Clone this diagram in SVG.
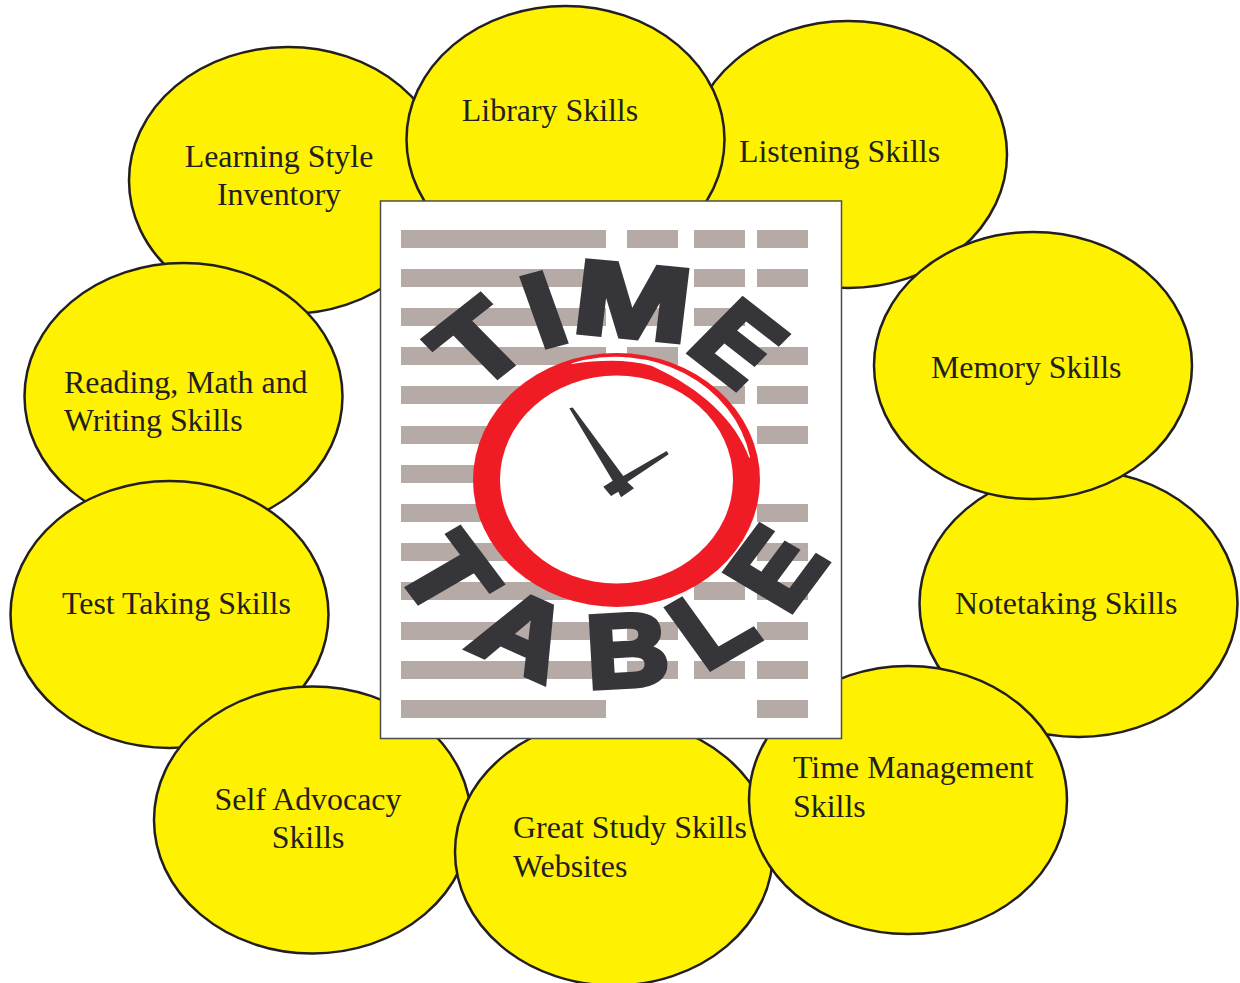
<svg xmlns="http://www.w3.org/2000/svg" width="1240" height="983" viewBox="0 0 1240 983">
<style>
.b{fill:#fff200;stroke:#231f20;stroke-width:2.5}
.t{font-family:"Liberation Serif","Times New Roman",serif;font-size:31.900px;fill:#231f20}
.m{text-anchor:middle}
.r{fill:#b5aaa5}
.l{font-family:"Liberation Sans",Arial,sans-serif;font-weight:700;font-size:100px;fill:#363539;stroke:#363539;stroke-width:5.500px;stroke-linejoin:miter}
</style>
<rect width="1240" height="983" fill="#fff"/>
<g id="listening"><ellipse class="b" cx="848" cy="154.500" rx="159" ry="133.500"/><text class="t" x="739" y="162">Listening Skills</text></g>
<g id="learning"><ellipse class="b" cx="288" cy="180.500" rx="159" ry="133.500"/><text class="t m" x="279" y="167">Learning Style</text><text class="t m" x="279" y="205">Inventory</text></g>
<g id="library"><ellipse class="b" cx="565.500" cy="139.500" rx="159" ry="133.500"/><text class="t m" x="550" y="121">Library Skills</text></g>
<g id="notetaking"><ellipse class="b" cx="1078.500" cy="603.500" rx="159" ry="133.500"/><text class="t" x="955" y="614">Notetaking Skills</text></g>
<g id="memory"><ellipse class="b" cx="1033" cy="365.500" rx="159" ry="133.500"/><text class="t" x="931" y="378">Memory Skills</text></g>
<g id="reading"><ellipse class="b" cx="183.500" cy="396.500" rx="159" ry="133.500"/><text class="t" x="64" y="393">Reading, Math and</text><text class="t" x="64" y="431">Writing Skills</text></g>
<g id="test"><ellipse class="b" cx="169.500" cy="614.500" rx="159" ry="133.500"/><text class="t" x="62" y="614">Test Taking Skills</text></g>
<g id="self"><ellipse class="b" cx="312.500" cy="820" rx="158.500" ry="133.500"/><text class="t m" x="308" y="810">Self Advocacy</text><text class="t m" x="308" y="848">Skills</text></g>
<g id="great"><ellipse class="b" cx="614" cy="852" rx="159" ry="133.500"/><text class="t" x="513" y="838">Great Study Skills</text><text class="t" x="513" y="877">Websites</text></g>
<g id="time"><ellipse class="b" cx="908" cy="800" rx="159" ry="134"/><text class="t" x="793" y="778">Time Management</text><text class="t" x="793" y="817">Skills</text></g>
<g id="timetable">
<rect x="380.500" y="201" width="461" height="537.500" fill="#fff" stroke="#4d4d4f" stroke-width="1.500"/>
<g id="rows">
<rect class="r" x="401" y="230" width="205" height="18"/><rect class="r" x="627" y="230" width="51" height="18"/><rect class="r" x="694" y="230" width="51" height="18"/><rect class="r" x="757" y="230" width="51" height="18"/>
<rect class="r" x="401" y="269" width="205" height="18"/><rect class="r" x="694" y="269" width="51" height="18"/><rect class="r" x="757" y="269" width="51" height="18"/>
<rect class="r" x="401" y="308" width="205" height="18"/><rect class="r" x="627" y="308" width="51" height="18"/><rect class="r" x="694" y="308" width="51" height="18"/>
<rect class="r" x="401" y="347" width="205" height="18"/><rect class="r" x="627" y="347" width="51" height="18"/><rect class="r" x="757" y="347" width="51" height="18"/>
<rect class="r" x="401" y="386" width="205" height="18"/><rect class="r" x="694" y="386" width="51" height="18"/><rect class="r" x="757" y="386" width="51" height="18"/>
<rect class="r" x="401" y="426" width="205" height="18"/><rect class="r" x="757" y="426" width="51" height="18"/>
<rect class="r" x="401" y="465" width="205" height="18"/>
<rect class="r" x="401" y="504" width="205" height="18"/><rect class="r" x="757" y="504" width="51" height="18"/>
<rect class="r" x="401" y="543" width="205" height="18"/><rect class="r" x="757" y="543" width="51" height="18"/>
<rect class="r" x="401" y="582" width="205" height="18"/><rect class="r" x="694" y="582" width="51" height="18"/><rect class="r" x="757" y="582" width="51" height="18"/>
<rect class="r" x="401" y="622" width="205" height="18"/><rect class="r" x="627" y="622" width="51" height="18"/><rect class="r" x="757" y="622" width="51" height="18"/>
<rect class="r" x="401" y="661" width="205" height="18"/><rect class="r" x="627" y="661" width="51" height="18"/><rect class="r" x="694" y="661" width="51" height="18"/><rect class="r" x="757" y="661" width="51" height="18"/>
<rect class="r" x="401" y="700" width="205" height="18"/><rect class="r" x="757" y="700" width="51" height="18"/>
</g>
<ellipse cx="616.500" cy="480" rx="143.500" ry="127" fill="#ef1c25"/>
<ellipse cx="616.500" cy="479.500" rx="116.500" ry="104" fill="#fff"/>
<path fill="#fff" d="M571.700 363.300A136.500 122 0 0 1 750 456.700L749.300 458.300C736 421 702 389 652 366C627 359 600 360 571.700 364Z"/>
<path fill="#363539" d="M569.300 408.300L572.700 407.500L623.300 476L666.700 451L668.700 454.300L627.300 482L634 488.300L621 497.300L618.300 491.700L611 496L603.300 486.700L612.700 480.700Z"/>
<text class="l" transform="matrix(1.03 -.808 .828 .843 475.600 397.900) translate(30.500 -34.400) scale(.92) translate(-30.500 34.400)">T</text>
<text class="l" transform="matrix(1.636 -.44 .384 1.076 534.400 353) translate(14 -34.400) scale(.72 .92) translate(-14 34.400)">I</text>
<text class="l" transform="matrix(1.486 .14 -.135 1.119 566.400 334) translate(41.600 -34.400) scale(.93 .92) translate(-41.600 34.400)">M</text>
<text class="l" transform="matrix(.893 .696 -.833 .843 679.800 349.200) translate(34 -34.400) scale(.92) translate(-34 34.400)">E</text>
<text class="l" transform="matrix(.761 1.012 -1.055 .613 387.500 565.800) translate(30.500 -34.400) scale(.92) translate(-30.500 34.400)">T</text>
<text class="l" transform="matrix(1.195 .532 -.56 1.006 461 649.300) translate(36 -34.400) scale(.94 .92) translate(-36 34.400)">A</text>
<text class="l" transform="matrix(1.24 -.07 .063 1.119 584.700 691.500) translate(37 -34.400) scale(.92) translate(-37 34.400)">B</text>
<text class="l" transform="matrix(1.04 -.6 .683 .945 703.800 675.800) translate(32 -34.400) scale(.92) translate(-32 34.400)">L</text>
<text class="l" transform="matrix(.69 -.925 1.041 .619 788.500 620.700) translate(34 -34.400) scale(.92) translate(-34 34.400)">E</text>
</g>
</svg>
